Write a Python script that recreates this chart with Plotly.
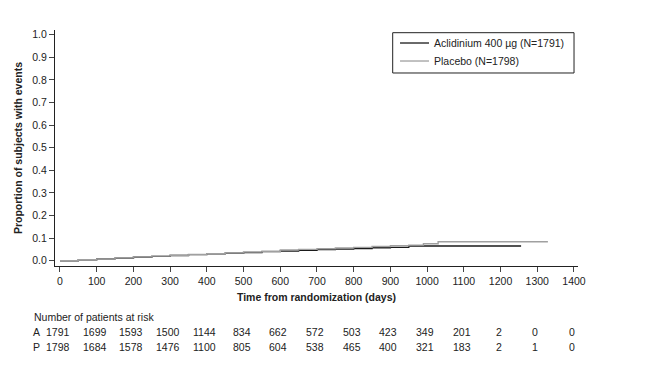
import plotly.graph_objects as go

# Kaplan-Meier style cumulative event curves (step data)
acl_days = [0, 50, 100, 150, 200, 250, 300, 350, 400, 450, 500, 550, 600, 650, 700, 750, 800, 850, 900, 950, 1256]
acl_prop = [0.0, 0.004, 0.008, 0.011, 0.015, 0.019, 0.023, 0.027, 0.030, 0.033, 0.036, 0.040, 0.043, 0.046, 0.049, 0.052, 0.054, 0.057, 0.059, 0.065, 0.065]
pla_days = [0, 50, 100, 150, 200, 250, 300, 350, 400, 450, 500, 550, 600, 650, 700, 750, 800, 850, 900, 950, 990, 1030, 1329]
pla_prop = [0.0, 0.004, 0.008, 0.012, 0.016, 0.020, 0.024, 0.028, 0.031, 0.034, 0.038, 0.042, 0.047, 0.050, 0.053, 0.056, 0.059, 0.063, 0.066, 0.069, 0.075, 0.084, 0.084]

series_names = ["Aclidinium 400 µg (N=1791)", "Placebo (N=1798)"]
series_colors = ["#1a1a1a", "#a0a0a0"]

risk_times = [0, 100, 200, 300, 400, 500, 600, 700, 800, 900, 1000, 1100, 1200, 1300, 1400]
risk_A = [1791, 1699, 1593, 1500, 1144, 834, 662, 572, 503, 423, 349, 201, 2, 0, 0]
risk_P = [1798, 1684, 1578, 1476, 1100, 805, 604, 538, 465, 400, 321, 183, 2, 1, 0]

FONT = "Liberation Sans, Arial, sans-serif"
FS = 10.5

fig = go.Figure()
fig.add_trace(go.Scatter(x=acl_days, y=acl_prop, mode="lines",
                         line=dict(shape="hv", color=series_colors[0], width=1.4),
                         name=series_names[0], showlegend=False))
fig.add_trace(go.Scatter(x=pla_days, y=pla_prop, mode="lines",
                         line=dict(shape="hv", color=series_colors[1], width=1.4),
                         name=series_names[1], showlegend=False))

fig.update_layout(
    width=653, height=365,
    margin=dict(l=55, r=75, t=30, b=99, autoexpand=False),
    paper_bgcolor="white", plot_bgcolor="white",
    font=dict(family=FONT, size=FS, color="#222"),
    showlegend=False,
    xaxis=dict(range=[-13.6, 1411], tickmode="array", tickvals=risk_times, ticks="outside", ticklen=5,
               showline=True, linecolor="#222", linewidth=1, showgrid=False, zeroline=False,
               automargin=False, tickfont=dict(size=FS),
               title=dict(text="<b>Time from randomization (days)</b>", font=dict(size=FS), standoff=8)),
    yaxis=dict(range=[-0.0235, 1.021], tickmode="array", tickvals=[i / 10 for i in range(11)],
               tickformat=".1f", ticks="outside", ticklen=5,
               showline=True, linecolor="#222", linewidth=1, showgrid=False, zeroline=False,
               automargin=False, tickfont=dict(size=FS),
               title=dict(text="<b>Proportion of subjects with events</b>", font=dict(size=FS), standoff=7)),
)

# legend box (drawn in paper coordinates)
shapes = [dict(type="rect", xref="paper", yref="paper", x0=0.6457, x1=0.9924, y0=0.8178, y1=0.9886,
               line=dict(color="#222", width=1), fillcolor="white", layer="above")]
anns = []
for i, (nm, col) in enumerate(zip(series_names, series_colors)):
    yy = 0.9449 - i * 0.0763
    shapes.append(dict(type="line", xref="paper", yref="paper", x0=0.6597, x1=0.7151, y0=yy, y1=yy,
                       line=dict(color=col, width=1.3), layer="above"))
    anns.append(dict(text=nm, xref="paper", yref="paper", x=0.7208, y=yy, xanchor="left", yanchor="middle",
                     showarrow=False, font=dict(size=FS)))

anns.append(dict(text="Number of patients at risk", xref="paper", yref="paper",
                 x=-0.044, y=-0.216, xanchor="left", yanchor="middle", showarrow=False, font=dict(size=FS)))
row_y = [-0.280, -0.345]
for label, vals, yy in (("A", risk_A, row_y[0]), ("P", risk_P, row_y[1])):
    anns.append(dict(text=label, xref="paper", yref="paper", x=-0.046, y=yy, xanchor="left", yanchor="middle",
                     showarrow=False, font=dict(size=FS)))
    for t, v in zip(risk_times, vals):
        anns.append(dict(text=str(v), xref="x", yref="paper", x=t, y=yy, xanchor="center", yanchor="middle",
                         xshift=-2, showarrow=False, font=dict(size=FS)))
fig.update_layout(annotations=anns, shapes=shapes)

fig.write_html("out.html", config={"displayModeBar": False},
               post_script="document.body.style.margin='0';document.body.style.overflow='hidden';")
